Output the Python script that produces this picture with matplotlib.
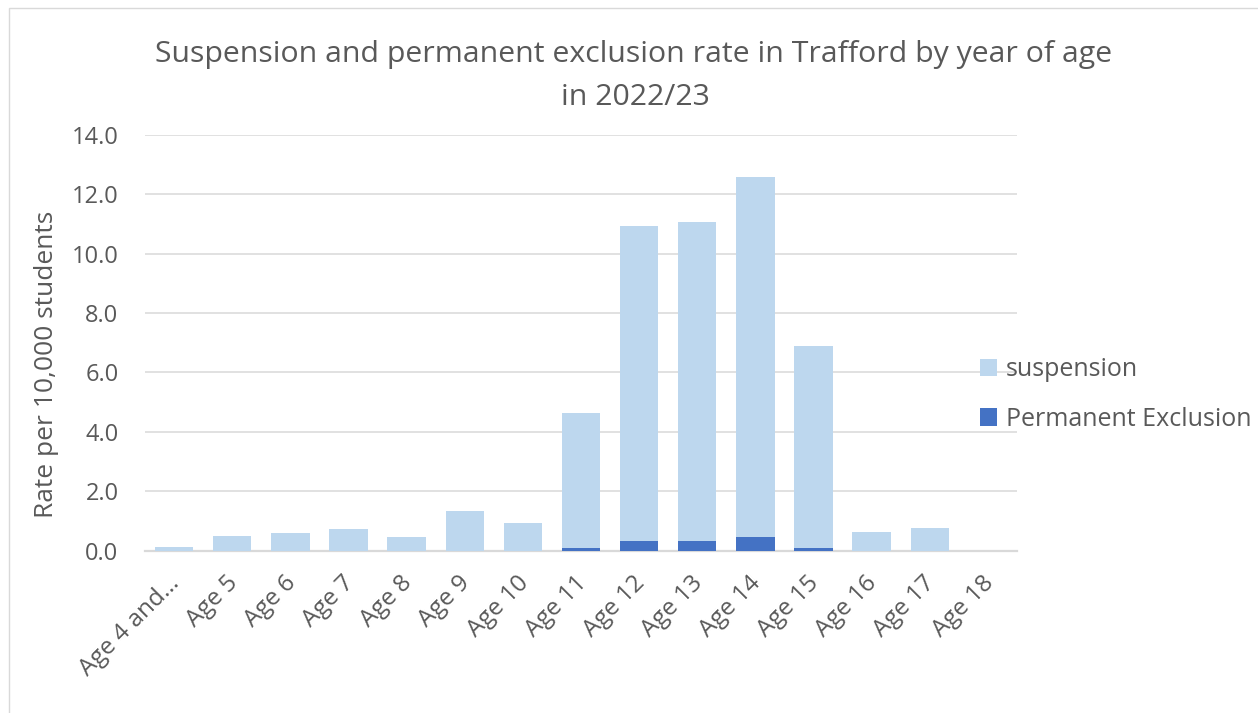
import matplotlib
matplotlib.use("Agg")
import matplotlib.pyplot as plt
from matplotlib.patches import Rectangle
from matplotlib.transforms import ScaledTranslation

plt.rcParams['font.family'] = ['Open Sans', 'DejaVu Sans']

categories = ["Age 4 and…", "Age 5", "Age 6", "Age 7", "Age 8", "Age 9", "Age 10",
              "Age 11", "Age 12", "Age 13", "Age 14", "Age 15", "Age 16", "Age 17", "Age 18"]
permanent_exclusion = [0.0, 0.0, 0.0, 0.0, 0.0, 0.0, 0.0,
                       0.08, 0.32, 0.32, 0.45, 0.07, 0.0, 0.0, 0.0]
suspension = [0.12, 0.49, 0.60, 0.73, 0.45, 1.32, 0.92,
              4.55, 10.63, 10.75, 12.13, 6.82, 0.62, 0.76, 0.0]
y_ticks = [0, 2, 4, 6, 8, 10, 12, 14]

text_color = "#595959"
light_blue = "#BDD7EE"
dark_blue = "#4472C4"
grid_color = "#D9D9D9"

W, H = 1258, 713
fig = plt.figure(figsize=(W / 100, H / 100), dpi=100)
# chart-area border
fig.patches.append(Rectangle((8.5 / W, -0.1), 1.2, 1.1 - 8.5 / H,
                             transform=fig.transFigure, fill=False,
                             edgecolor="#D9D9D9", linewidth=1))

ax = fig.add_axes([145 / W, 1 - 550.5 / H, (1017 - 145) / W, (550.5 - 135) / H])

x = list(range(len(categories)))
ax.bar(x, permanent_exclusion, width=0.66, color=dark_blue, label="Permanent Exclusion",
       zorder=3)
ax.bar(x, suspension, width=0.66, bottom=permanent_exclusion, color=light_blue,
       label="suspension", zorder=3)

ax.set_xlim(-0.5, len(categories) - 0.5)
ax.set_ylim(0, 14)
ax.set_yticks(y_ticks)
ax.set_yticklabels([f"{v:.1f}" for v in y_ticks])
ax.yaxis.grid(True, color=grid_color, linewidth=1.1, zorder=0)
ax.set_axisbelow(True)
for side in ["top", "right", "left"]:
    ax.spines[side].set_visible(False)
ax.spines["bottom"].set_color(grid_color)
ax.spines["bottom"].set_linewidth(1.6)
ax.tick_params(axis="both", length=0, colors=text_color, labelsize=17)
ax.tick_params(axis="y", pad=19)
ax.set_xticks(x)
ax.set_xticklabels(categories, rotation=45, ha="right", va="center",
                   rotation_mode="anchor", fontsize=17.5)
ax.tick_params(axis="x", pad=21)
shift = ScaledTranslation(2 / 100, 0, fig.dpi_scale_trans)
for lbl in ax.get_xticklabels():
    lbl.set_transform(lbl.get_transform() + shift)

ax.set_ylabel("Rate per 10,000 students", color=text_color, fontsize=19)
ax.yaxis.set_label_coords(59 / W, 1 - 364 / H, transform=fig.transFigure)

fig.text(634 / W, 1 - 62.3 / H,
         "Suspension and permanent exclusion rate in Trafford by year of age",
         ha="center", va="baseline", color=text_color, fontsize=21.8)
fig.text(635 / W, 1 - 105 / H, "in 2022/23", ha="center", va="baseline",
         color=text_color, fontsize=21.8)

handles, labels = ax.get_legend_handles_labels()
fig.legend(handles[::-1], labels[::-1], loc="center left",
           bbox_to_anchor=(975 / W, 1 - 394.5 / H), frameon=False,
           fontsize=18, labelcolor=text_color, handlelength=0.68, handleheight=0.68,
           handletextpad=0.36, labelspacing=0.98, borderaxespad=0, borderpad=0.2)

fig.savefig("out.png", dpi=100)
